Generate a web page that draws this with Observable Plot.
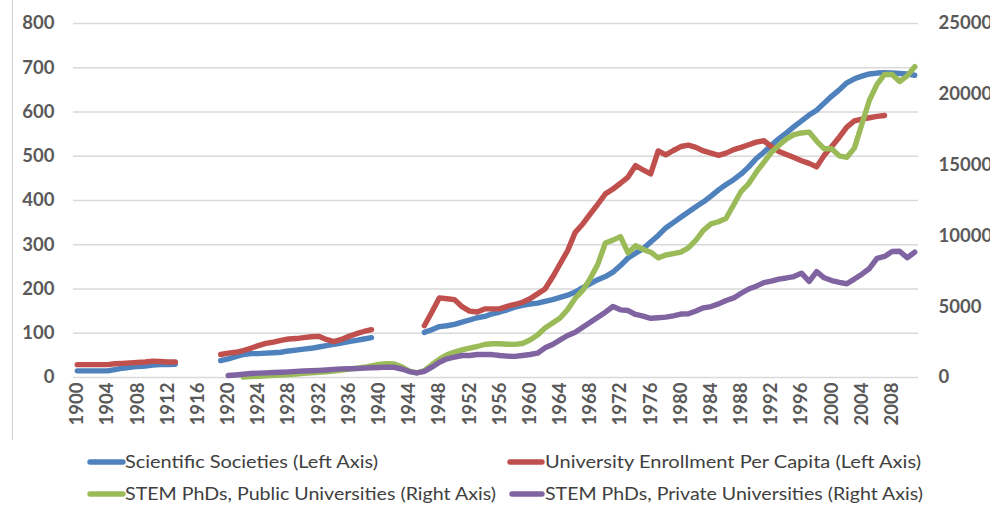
<!DOCTYPE html>
<html><head><meta charset="utf-8">
<script src="https://cdn.jsdelivr.net/npm/d3@7"></script>
<script src="https://cdn.jsdelivr.net/npm/@observablehq/plot@0.6"></script>
<style>
body{margin:0;background:#fff;}
#wrap{position:relative;width:990px;height:512px;overflow:hidden;font-family:Lato,"Open Sans",sans-serif;background:#fff;}
#frame{position:absolute;left:12px;top:0;width:1px;height:440px;background:#cfcfcf;}
#chart svg,#legend svg{display:block;}
</style></head><body>
<div id="wrap"><div id="frame"></div><div id="chart"></div><div id="legend"></div></div>
<script>
// Categories: one per year, 1900..2011
const years = d3.range(1900, 2012);
const N = null;

// Series (left axis)
const societies = [
  15,15,15,15,15,18,21,23,25,26,28,29,29,30,
  N,N,N,N,N,
  38,42,47,52,54,54,55,56,57,60,62,64,66,69,72,75,78,81,84,87,90,
  N,N,N,N,N,N,
  102,108,115,117,120,125,130,135,138,144,148,153,159,163,166,168,172,176,181,186,193,203,212,221,228,238,253,270,281,291,306,321,
  338,350,362,374,386,397,410,424,436,447,460,476,495,509,525,540,553,567,580,593,604,620,636,650,666,675,681,686,688,689,688,687,686,683
];
const enrollment = [
  29,29,29,29,29,31,32,33,34,35,37,36,35,35,
  N,N,N,N,N,
  52,55,57,61,66,72,77,80,84,87,88,90,92,93,86,81,86,93,99,104,108,
  N,N,N,N,N,N,
  117,148,180,178,176,160,150,148,155,155,155,161,165,170,178,189,200,227,257,287,328,347,370,392,415,426,439,453,479,469,460,
  512,503,513,522,525,520,512,507,502,507,515,520,526,532,535,522,511,504,497,490,484,476,502,522,543,566,580,584,587,590,592,
  N,N,N,N
];
// Series (right axis)
const phdPublic = [
  N,N,N,N,N,N,N,N,N,N,N,N,N,N,N,N,N,N,N,N,N,N,
  30,60,90,120,150,180,210,250,290,330,370,410,460,530,600,660,720,820,920,980,960,760,450,320,
  480,900,1300,1600,1790,1950,2080,2190,2330,2380,2380,2350,2340,2400,2650,3000,3500,3850,4200,4800,5600,6150,7000,8000,9500,9700,9950,8800,9300,9050,8850,8450,
  8650,8750,8860,9150,9700,10400,10850,11000,11250,12200,13150,13700,14500,15200,15900,16400,16850,17150,17270,17330,16700,16150,16150,15650,15550,16200,17900,19600,20700,21400,21400,20900,21300,21950
];
const phdPrivate = [
  N,N,N,N,N,N,N,N,N,N,N,N,N,N,N,N,N,N,N,N,
  140,180,230,280,310,330,350,370,400,430,460,480,500,530,570,610,620,630,660,690,710,730,720,600,420,320,
  430,730,1080,1320,1435,1554,1554,1624,1624,1620,1554,1507,1490,1554,1624,1718,2095,2330,2660,2966,3200,3550,3905,4260,4612,5014,4780,4730,4450,
  4330,4180,4220,4260,4350,4480,4500,4700,4920,5010,5200,5440,5620,5950,6250,6450,6700,6800,6950,7030,7130,7370,6780,7480,7040,6850,6720,6620,6950,7300,7700,8420,8550,8900,8920,8460,8850
];

const seriesNames = [
  "Scientific Societies (Left Axis)",
  "University Enrollment Per Capita (Left Axis)",
  "STEM PhDs, Public Universities (Right Axis)",
  "STEM PhDs, Private Universities (Right Axis)"
];
const seriesColors = ["#4F81BD", "#C0504D", "#9BBB59", "#8064A2"];
const leftTicks = [0,100,200,300,400,500,600,700,800];
const rightTicks = [0,5000,10000,15000,20000,25000];
const xTicks = d3.range(1900, 2012, 4);

const K = 800 / 25000; // right-axis units -> left-axis units
const seriesValues = [societies, enrollment, phdPublic, phdPrivate];
const seriesFactor = [1, 1, K, K];

const tables = seriesValues.map((vals, s) =>
  years.map((yr, i) => ({
    year: yr,
    series: seriesNames[s],
    v: vals[i] == null ? NaN : vals[i] * seriesFactor[s]
  }))
);

const txt = {fontSize: 18.5, fontWeight: "bold", fontFamily: "Lato"};

const chart = Plot.plot({
  width: 990,
  height: 445,
  marginLeft: 73,
  marginRight: 72,
  marginTop: 23,
  marginBottom: 68,
  style: {color: "#595959", background: "transparent", fontFamily: "Lato"},
  x: {type: "linear", domain: [1899.5, 2011.5]},
  y: {domain: [0, 800]},
  color: {domain: seriesNames, range: seriesColors},
  marks: [
    Plot.gridY(leftTicks, {stroke: "#d9d9d9", strokeOpacity: 1, strokeWidth: 1.3}),
    Plot.axisY(leftTicks, {anchor: "left", tickSize: 0, tickPadding: 19, label: null, ...txt}),
    Plot.axisY(rightTicks.map(t => t * K), {anchor: "right", tickSize: 0, tickPadding: 20, label: null,
      textAnchor: "start", tickFormat: d => String(Math.round(d / K)), ...txt}),
    Plot.axisX(xTicks, {anchor: "bottom", tickSize: 0, tickPadding: 5, tickRotate: -90, label: null,
      tickFormat: d => String(d), ...txt}),
    ...tables.map(t => Plot.line(t, {
      x: "year", y: "v", z: "series", stroke: "series",
      strokeWidth: 5.4, strokeLinecap: "round", strokeLinejoin: "round"
    }))
  ]
});
document.getElementById("chart").appendChild(chart);

// Legend (below the plot)
const legendLayout = [
  {sx1: 90, sx2: 123, tx: 125, tw: 253, y: 17},
  {sx1: 510, sx2: 542, tx: 545, tw: 376, y: 17},
  {sx1: 90, sx2: 123, tx: 125, tw: 371, y: 49},
  {sx1: 512, sx2: 542, tx: 545, tw: 378, y: 49}
];
const leg = d3.create("svg").attr("width", 990).attr("height", 67);
seriesNames.forEach((name, i) => {
  const L = legendLayout[i];
  leg.append("line").attr("x1", L.sx1).attr("x2", L.sx2).attr("y1", L.y).attr("y2", L.y)
    .attr("stroke", seriesColors[i]).attr("stroke-width", 5.4).attr("stroke-linecap", "round");
  leg.append("text").attr("x", L.tx).attr("y", L.y).attr("dy", "0.36em")
    .attr("font-family", "Lato").attr("font-size", 18).attr("fill", "#404040")
    .attr("textLength", L.tw).attr("lengthAdjust", "spacingAndGlyphs")
    .text(name);
});
document.getElementById("legend").appendChild(leg.node());
</script>
</body></html>
